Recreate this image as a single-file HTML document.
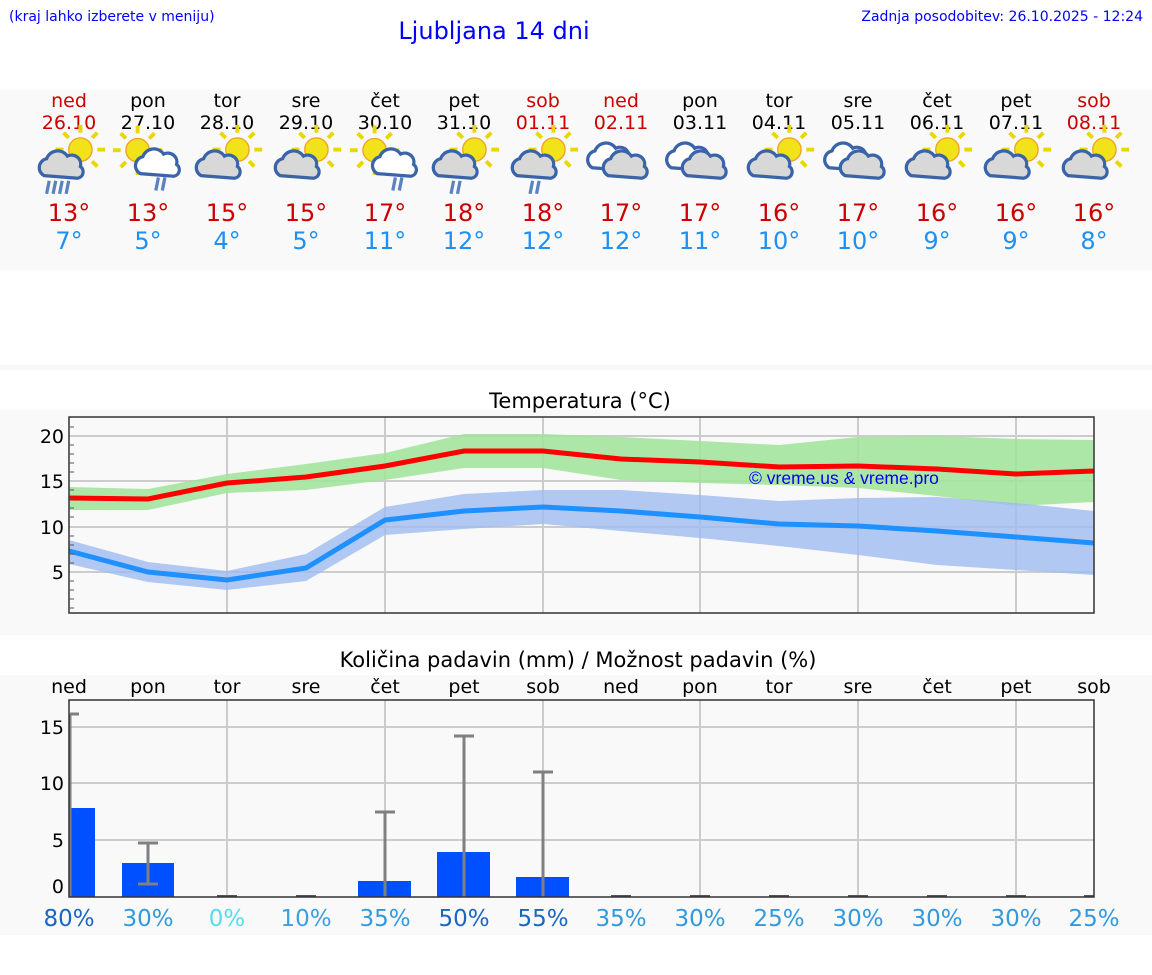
<!DOCTYPE html>
<html><head><meta charset="utf-8"><style>
body{margin:0;background:#fff;}
svg{display:block;font-family:"DejaVu Sans","Liberation Sans",sans-serif;}
</style></head><body>
<svg width="1152" height="975" viewBox="0 0 1152 975" xmlns="http://www.w3.org/2000/svg">
<defs>
<g id="sun"><g stroke="#e8d800" stroke-width="3"><line x1="0" y1="-19" x2="0" y2="-13"/><line x1="0" y1="19" x2="0" y2="13"/><line x1="-19" y1="0" x2="-13" y2="0"/><line x1="19" y1="0" x2="13" y2="0"/><line x1="-13" y1="-13" x2="-9" y2="-9"/><line x1="13" y1="13" x2="9" y2="9"/><line x1="-13" y1="13" x2="-9" y2="9"/><line x1="13" y1="-13" x2="9" y2="-9"/></g><circle r="9" fill="#f2e21a" stroke="#f0a020" stroke-width="1"/></g>
<g id="cloud"><path d="M-14,8 a7,7 0 0 1 2,-13 a9,9 0 0 1 16,-2 a7,7 0 0 1 10,8 a5,5 0 0 1 -2,9 z" fill="#d8d8d8" stroke="#3a64a8" stroke-width="2.5"/></g>
<g id="wcloud"><path d="M-14,8 a7,7 0 0 1 2,-13 a9,9 0 0 1 16,-2 a7,7 0 0 1 10,8 a5,5 0 0 1 -2,9 z" fill="#fff" stroke="#3a64a8" stroke-width="2.5"/></g>
<g id="rain2" stroke="#5a82c0" stroke-width="2.5"><line x1="0" y1="0" x2="-2" y2="10"/><line x1="5" y1="0" x2="3" y2="10"/></g>
<g id="rain4" stroke="#5a82c0" stroke-width="2.5"><line x1="0" y1="0" x2="-2" y2="10"/><line x1="5" y1="0" x2="3" y2="10"/><line x1="10" y1="0" x2="8" y2="10"/><line x1="15" y1="0" x2="13" y2="10"/></g>
<g id="i1"><use href="#sun" x="8" y="-8"/><use href="#cloud" x="-6" y="4"/></g>
<g id="i1r"><use href="#i1"/><use href="#rain2" x="-8" y="16"/></g>
<g id="i1r4"><use href="#i1"/><use href="#rain4" x="-16" y="16"/></g>
<g id="i2"><use href="#sun" x="-8" y="-6"/><use href="#wcloud" x="8" y="4"/><use href="#rain2" x="8" y="15"/></g>
<g id="i3"><use href="#wcloud" x="-8" y="-2"/><use href="#cloud" x="4" y="4"/></g>
</defs>
<rect x="0" y="90" width="1152" height="180" fill="#f9f9f9"/>
<rect x="0" y="365" width="1152" height="5" fill="#f7f7f7"/>
<rect x="0" y="410" width="1152" height="225" fill="#f9f9f9"/>
<rect x="0" y="675" width="1152" height="260" fill="#f9f9f9"/>
<text x="9" y="21" font-size="14" fill="#0000ff">(kraj lahko izberete v meniju)</text>
<text x="1143" y="21" font-size="14" fill="#0000ff" text-anchor="end">Zadnja posodobitev: 26.10.2025 - 12:24</text>
<text x="494" y="39" font-size="24" fill="#0000ff" text-anchor="middle">Ljubljana 14 dni</text>
<g font-size="19" text-anchor="middle">
<g fill="#cc0000"><text x="69" y="107">ned</text><text x="69" y="129">26.10</text><text x="543" y="107">sob</text><text x="543" y="129">01.11</text><text x="621" y="107">ned</text><text x="621" y="129">02.11</text><text x="1094" y="107">sob</text><text x="1094" y="129">08.11</text></g>
<g fill="#000"><text x="148" y="107">pon</text><text x="148" y="129">27.10</text><text x="227" y="107">tor</text><text x="227" y="129">28.10</text><text x="306" y="107">sre</text><text x="306" y="129">29.10</text><text x="385" y="107">čet</text><text x="385" y="129">30.10</text><text x="464" y="107">pet</text><text x="464" y="129">31.10</text><text x="700" y="107">pon</text><text x="700" y="129">03.11</text><text x="779" y="107">tor</text><text x="779" y="129">04.11</text><text x="858" y="107">sre</text><text x="858" y="129">05.11</text><text x="937" y="107">čet</text><text x="937" y="129">06.11</text><text x="1016" y="107">pet</text><text x="1016" y="129">07.11</text></g>
</g>
<g>
<use href="#i1r4" transform="translate(70,160) scale(1.3)"/>
<use href="#i2" transform="translate(148,158) scale(1.3)"/>
<use href="#i1" transform="translate(227,160) scale(1.3)"/>
<use href="#i1" transform="translate(306,160) scale(1.3)"/>
<use href="#i2" transform="translate(385,158) scale(1.3)"/>
<use href="#i1r" transform="translate(464,160) scale(1.3)"/>
<use href="#i1r" transform="translate(543,160) scale(1.3)"/>
<use href="#i3" transform="translate(621,160) scale(1.3)"/>
<use href="#i3" transform="translate(700,160) scale(1.3)"/>
<use href="#i1" transform="translate(779,160) scale(1.3)"/>
<use href="#i3" transform="translate(858,160) scale(1.3)"/>
<use href="#i1" transform="translate(937,160) scale(1.3)"/>
<use href="#i1" transform="translate(1016,160) scale(1.3)"/>
<use href="#i1" transform="translate(1094,160) scale(1.3)"/>
</g>
<g font-size="24" text-anchor="middle" fill="#cc0000">
<text x="69" y="221">13°</text><text x="148" y="221">13°</text><text x="227" y="221">15°</text><text x="306" y="221">15°</text><text x="385" y="221">17°</text><text x="464" y="221">18°</text><text x="543" y="221">18°</text><text x="621" y="221">17°</text><text x="700" y="221">17°</text><text x="779" y="221">16°</text><text x="858" y="221">17°</text><text x="937" y="221">16°</text><text x="1016" y="221">16°</text><text x="1094" y="221">16°</text>
</g>
<g font-size="24" text-anchor="middle" fill="#2090f0">
<text x="69" y="249">7°</text><text x="148" y="249">5°</text><text x="227" y="249">4°</text><text x="306" y="249">5°</text><text x="385" y="249">11°</text><text x="464" y="249">12°</text><text x="543" y="249">12°</text><text x="621" y="249">12°</text><text x="700" y="249">11°</text><text x="779" y="249">10°</text><text x="858" y="249">10°</text><text x="937" y="249">9°</text><text x="1016" y="249">9°</text><text x="1094" y="249">8°</text>
</g>

<text x="580" y="408" font-size="21" text-anchor="middle">Temperatura (°C)</text>
<rect x="69" y="417" width="1025" height="196" fill="#f9f9f9"/>
<g stroke="#ccc" stroke-width="2">
<line x1="69" y1="436" x2="1094" y2="436"/><line x1="69" y1="481" x2="1094" y2="481"/><line x1="69" y1="527" x2="1094" y2="527"/><line x1="69" y1="572" x2="1094" y2="572"/>
<line x1="227" y1="417" x2="227" y2="613"/><line x1="385" y1="417" x2="385" y2="613"/><line x1="543" y1="417" x2="543" y2="613"/><line x1="700" y1="417" x2="700" y2="613"/><line x1="858" y1="417" x2="858" y2="613"/><line x1="1016" y1="417" x2="1016" y2="613"/>
</g>
<polygon fill="#a0e49a" opacity="0.85" points="69,487 148,489 227,474 306,464 385,453 464,434 543,434 621,437 700,441 779,445 858,437 937,436 1016,439 1094,440 1094,502 1016,506 937,496 858,488 779,485 700,483 621,480 543,468 464,468 385,480 306,490 227,493 148,510 69,510"/>
<polygon fill="#9dbcf0" opacity="0.8" points="69,540 148,562 227,571 306,554 385,507 464,494 543,490 621,490 700,495 779,501 858,498 937,497 1016,503 1094,511 1094,575 1016,570 937,565 858,555 779,546 700,538 621,531 543,524 464,529 385,535 306,581 227,590 148,582 69,564"/>
<polyline fill="none" stroke="#ff0000" stroke-width="5" points="69,498 148,499 227,483 306,477 385,466 464,451 543,451 621,459 700,462 779,467 858,466 937,469 1016,474 1094,471"/>
<polyline fill="none" stroke="#1e90ff" stroke-width="5" points="69,551 148,572 227,580 306,568 385,520 464,511 543,507 621,511 700,517 779,524 858,526 937,531 1016,537 1094,543"/>
<text x="749" y="484" font-size="17.5" fill="#0000ee" font-family="Liberation Sans, sans-serif">© vreme.us &amp; vreme.pro</text>
<rect x="69" y="417" width="1025" height="196" fill="none" stroke="#333" stroke-width="1.5"/>
<g stroke="#555" stroke-width="1"><line x1="69" y1="427" x2="74" y2="427"/><line x1="69" y1="445" x2="74" y2="445"/><line x1="69" y1="454" x2="74" y2="454"/><line x1="69" y1="463" x2="74" y2="463"/><line x1="69" y1="472" x2="74" y2="472"/><line x1="69" y1="490" x2="74" y2="490"/><line x1="69" y1="499" x2="74" y2="499"/><line x1="69" y1="508" x2="74" y2="508"/><line x1="69" y1="517" x2="74" y2="517"/><line x1="69" y1="536" x2="74" y2="536"/><line x1="69" y1="545" x2="74" y2="545"/><line x1="69" y1="554" x2="74" y2="554"/><line x1="69" y1="563" x2="74" y2="563"/><line x1="69" y1="581" x2="74" y2="581"/><line x1="69" y1="590" x2="74" y2="590"/><line x1="69" y1="599" x2="74" y2="599"/><line x1="69" y1="608" x2="74" y2="608"/></g>
<g font-size="19" text-anchor="end"><text x="64" y="443">20</text><text x="64" y="488">15</text><text x="64" y="534">10</text><text x="64" y="579">5</text></g>

<text x="578" y="667" font-size="21" text-anchor="middle">Količina padavin (mm) / Možnost padavin (%)</text>
<g font-size="19" text-anchor="middle">
<text x="69" y="693">ned</text><text x="148" y="693">pon</text><text x="227" y="693">tor</text><text x="306" y="693">sre</text><text x="385" y="693">čet</text><text x="464" y="693">pet</text><text x="543" y="693">sob</text><text x="621" y="693">ned</text><text x="700" y="693">pon</text><text x="779" y="693">tor</text><text x="858" y="693">sre</text><text x="937" y="693">čet</text><text x="1016" y="693">pet</text><text x="1094" y="693">sob</text>
</g>
<rect x="69" y="700" width="1025" height="197" fill="#f9f9f9"/>
<g stroke="#ccc" stroke-width="2">
<line x1="69" y1="727" x2="1094" y2="727"/><line x1="69" y1="783" x2="1094" y2="783"/><line x1="69" y1="840" x2="1094" y2="840"/>
<line x1="227" y1="700" x2="227" y2="897"/><line x1="385" y1="700" x2="385" y2="897"/><line x1="543" y1="700" x2="543" y2="897"/><line x1="700" y1="700" x2="700" y2="897"/><line x1="858" y1="700" x2="858" y2="897"/><line x1="1016" y1="700" x2="1016" y2="897"/>
</g>
<g fill="#0050ff">
<rect x="69" y="808" width="26" height="89"/>
<rect x="122" y="863" width="52" height="34"/>
<rect x="358" y="881" width="53" height="16"/>
<rect x="437" y="852" width="53" height="45"/>
<rect x="516" y="877" width="53" height="20"/>
</g>
<g stroke="#808080" stroke-width="3">
<line x1="70" y1="714" x2="70" y2="897"/><line x1="70" y1="714" x2="79" y2="714"/>
<line x1="148" y1="843" x2="148" y2="884"/><line x1="138" y1="843" x2="158" y2="843"/><line x1="138" y1="884" x2="158" y2="884"/>
<line x1="385" y1="812" x2="385" y2="897"/><line x1="375" y1="812" x2="395" y2="812"/>
<line x1="464" y1="736" x2="464" y2="897"/><line x1="454" y1="736" x2="474" y2="736"/>
<line x1="543" y1="772" x2="543" y2="897"/><line x1="533" y1="772" x2="553" y2="772"/>
</g>
<g stroke="#555" stroke-width="2"><line x1="217" y1="896" x2="237" y2="896"/><line x1="296" y1="896" x2="316" y2="896"/><line x1="611" y1="896" x2="631" y2="896"/><line x1="690" y1="896" x2="710" y2="896"/><line x1="769" y1="896" x2="789" y2="896"/><line x1="848" y1="896" x2="868" y2="896"/><line x1="927" y1="896" x2="947" y2="896"/><line x1="1006" y1="896" x2="1026" y2="896"/><line x1="1084" y1="896" x2="1094" y2="896"/></g>
<rect x="69" y="700" width="1025" height="197" fill="none" stroke="#333" stroke-width="1.5"/>
<g font-size="19" text-anchor="end"><text x="64" y="734">15</text><text x="64" y="790">10</text><text x="64" y="847">5</text><text x="64" y="893">0</text></g>
<g font-size="23" text-anchor="middle">
<text x="69" y="926" fill="#1a66c0">80%</text><text x="148" y="926" fill="#3399dd">30%</text><text x="227" y="926" fill="#55ddee">0%</text><text x="306" y="926" fill="#3aa0e0">10%</text><text x="385" y="926" fill="#3399dd">35%</text><text x="464" y="926" fill="#1a66c0">50%</text><text x="543" y="926" fill="#1a66c0">55%</text><text x="621" y="926" fill="#3399dd">35%</text><text x="700" y="926" fill="#3399dd">30%</text><text x="779" y="926" fill="#3399dd">25%</text><text x="858" y="926" fill="#3399dd">30%</text><text x="937" y="926" fill="#3399dd">30%</text><text x="1016" y="926" fill="#3399dd">30%</text><text x="1094" y="926" fill="#3399dd">25%</text>
</g>
</svg>
</body></html>
